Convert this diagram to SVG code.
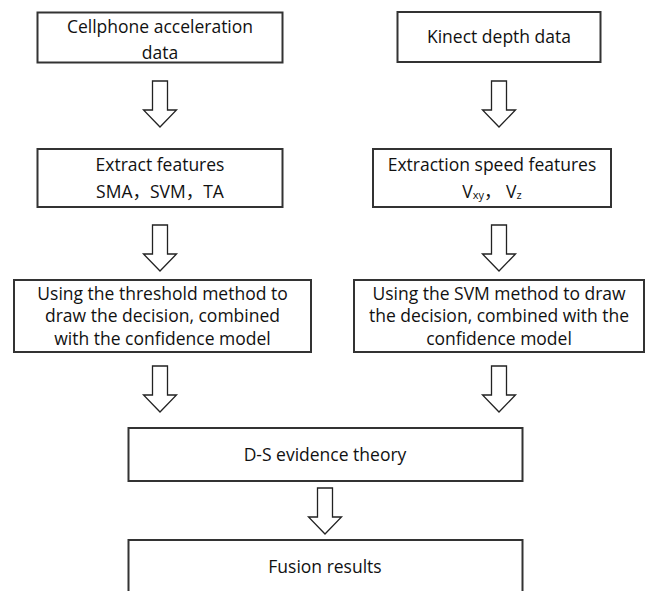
<svg xmlns="http://www.w3.org/2000/svg" width="646" height="591" viewBox="0 0 646 591">
<style>
.box{fill:#fff;stroke:#333;stroke-width:2}
.arr{fill:#fff;stroke:#222;stroke-width:1.3;stroke-linejoin:miter}
text{font-family:"Open Sans","Noto Sans CJK SC",sans-serif;font-size:17.5px;fill:#111;text-anchor:middle}
.sub{font-size:11px}
</style>
<defs>
<path id="darrow" d="M-7.5,0 H7.5 V29 H16.5 L0,46 L-16.5,29 H-7.5 Z"/>
</defs>
<rect width="646" height="591" fill="#fff"/>
<g id="connectors">
<use href="#darrow" class="arr" x="160" y="81"/>
<use href="#darrow" class="arr" x="499" y="81"/>
<use href="#darrow" class="arr" x="160" y="225"/>
<use href="#darrow" class="arr" x="499" y="225"/>
<use href="#darrow" class="arr" x="160" y="366"/>
<use href="#darrow" class="arr" x="499" y="366"/>
<use href="#darrow" class="arr" x="325" y="488"/>
</g>
<g id="n1">
<rect class="box" x="37.5" y="12.5" width="245" height="50"/>
<text x="160" y="33">Cellphone acceleration</text>
<text x="160" y="59">data</text>
</g>
<g id="n2">
<rect class="box" x="397.5" y="12" width="203" height="50"/>
<text x="499" y="43">Kinect depth data</text>
</g>
<g id="n3">
<rect class="box" x="37.5" y="149" width="245" height="58"/>
<text x="160" y="171">Extract features</text>
<text x="160" y="198">SMA，SVM，TA</text>
</g>
<g id="n4">
<rect class="box" x="373" y="149" width="238" height="58"/>
<text x="492" y="171">Extraction speed features</text>
<text x="492" y="198">V<tspan class="sub" dy="1">xy</tspan><tspan dy="-1">，  V</tspan><tspan class="sub" dy="1">z</tspan></text>
</g>
<g id="n5">
<rect class="box" x="14" y="280" width="297" height="72"/>
<text x="162.5" y="299.5">Using the threshold method to</text>
<text x="162.5" y="322">draw the decision, combined</text>
<text x="162.5" y="344.5">with the confidence model</text>
</g>
<g id="n6">
<rect class="box" x="354" y="280" width="290" height="72"/>
<text x="499" y="299.5">Using the SVM method to draw</text>
<text x="499" y="322">the decision, combined with the</text>
<text x="499" y="344.5">confidence model</text>
</g>
<g id="n7">
<rect class="box" x="128.5" y="428" width="394" height="53"/>
<text x="325" y="461">D-S evidence theory</text>
</g>
<g id="n8">
<rect class="box" x="128.5" y="540" width="394" height="58"/>
<text x="325" y="573">Fusion results</text>
</g>
</svg>
